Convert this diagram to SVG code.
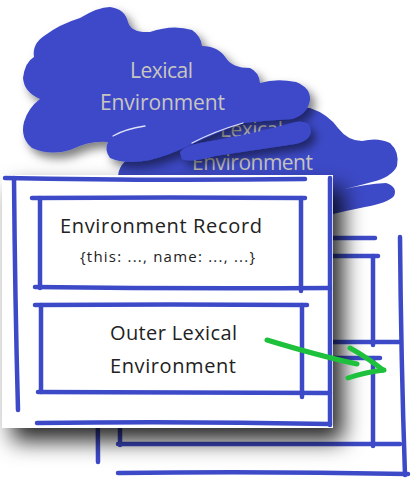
<svg xmlns="http://www.w3.org/2000/svg" width="413" height="487" viewBox="0 0 413 487">
<defs>
<filter id="sh" x="-20%" y="-20%" width="150%" height="150%"><feDropShadow dx="10" dy="13" stdDeviation="11" flood-color="#000" flood-opacity="0.85"/></filter>
<filter id="bsh" x="-20%" y="-30%" width="150%" height="170%"><feDropShadow dx="5" dy="6" stdDeviation="5" flood-color="#000" flood-opacity="0.5"/></filter>
<style>
.ln{fill:none;stroke:#3d4ac8;stroke-width:4.5;stroke-linecap:round;stroke-linejoin:round}
.blob{fill:#3d4ac8}
.bt{font-family:"Open Sans","Liberation Sans",sans-serif;font-size:21px;fill:#c9c6c0}
.t{font-family:"Open Sans","Liberation Sans",sans-serif;font-size:20px;fill:#222}
.ts{font-family:"Open Sans","Liberation Sans",sans-serif;font-size:15px;fill:#222}
.gr{fill:none;stroke:#1ec13c;stroke-width:5;stroke-linecap:round;stroke-linejoin:round}
</style>
</defs>
<rect width="413" height="487" fill="#fff"/>

<g id="back-env">
<path class="ln" d="M85,238 L375,238"/>
<path class="ln" d="M400,237 Q401,360 405,475"/>
<path class="ln" d="M118,473 Q260,471 408,474"/>
<path class="ln" d="M97,238 L98,462"/>
<path class="ln" d="M105,256 L378,256"/>
<path class="ln" d="M373,256 L373,345"/>
<path class="ln" d="M108,342 L400,342"/>
<path class="ln" d="M120,256 L120,342"/>
<path class="ln" d="M108,358 L380,358"/>
<path class="ln" d="M373,358 L373,446"/>
<path class="ln" d="M118,444 L400,444"/>
<path class="ln" d="M120,358 L120,445"/>
<path class="blob" d="M118,178 Q118,162 135,156 Q180,140 230,122 Q280,104 310,108 Q328,114 338,128 Q348,141 362,141 Q378,137 390,143 Q400,152 397,166 Q392,177 372,182 Q350,188 340,190 Q366,184 386,183 Q398,187 394,196 Q388,203 365,207 Q345,211 333,214 L300,222 L118,222 Z"/>
<text class="bt" x="220" y="137" textLength="63">Lexical</text>
<text class="bt" x="192" y="170" textLength="121">Environment</text>
</g>

<g id="front-env">
<g filter="url(#bsh)">
<path class="blob" d="M110,7 Q125,9 128,22 Q131,33 150,32 Q173,24 192,30 Q201,36 202,46 Q218,46 226,58 Q232,68 250,68 Q259,72 260,83 Q276,78 296,82 Q311,88 310,100 Q308,114 292,119 Q260,121 243,123 Q215,133 190,145 Q170,155 150,160 Q125,165 110,158 Q104,150 108,142 Q90,140 70,150 Q50,156 32,148 Q20,138 24,122 Q28,108 40,99 Q24,92 23,78 Q25,62 34,57 Q32,44 44,36 Q60,24 80,18 Q98,7 110,7 Z"/>
<path class="blob" d="M180,152 Q184,146 200,143 Q250,135 296,122 Q310,120 311,131 Q310,141 295,144 Q255,150 215,156 Q190,163 182,159 Z"/>
</g>
<path d="M113,136 Q125,129 145,126" fill="none" stroke="#dfe2f6" stroke-width="1.3" stroke-linecap="round"/>
<path d="M192,143 Q215,131 243,123" fill="none" stroke="#dfe2f6" stroke-width="1.3" stroke-linecap="round"/>
<text class="bt" x="130" y="78" textLength="63">Lexical</text>
<text class="bt" x="100" y="110" textLength="125">Environment</text>

<rect x="2" y="175" width="331" height="253" fill="#fff" filter="url(#sh)"/>
<path class="ln" d="M5,178 Q150,181 305,179"/>
<path class="ln" d="M14,178 Q15,300 18,410"/>
<path class="ln" d="M330,178 L330,425"/>
<path class="ln" d="M37,423 Q180,421 330,424"/>
</g>

<g id="env-record">
<path class="ln" d="M32,198 Q170,197 305,198"/>
<path class="ln" d="M40,198 L40,288"/>
<path class="ln" d="M301,198 L301,291"/>
<path class="ln" d="M35,287 Q180,289 330,288"/>
<text class="t" x="60" y="233" textLength="202">Environment Record</text>
<text class="ts" x="80" y="262" textLength="175">{this: ..., name: ..., ...}</text>
</g>

<g id="outer-lexical-env">
<path class="ln" d="M35,305 Q170,304 307,305"/>
<path class="ln" d="M41,305 L41,392"/>
<path class="ln" d="M302,305 L302,397"/>
<path class="ln" d="M38,392 Q180,393 330,393"/>
<text class="t" x="110" y="340" textLength="127">Outer Lexical</text>
<text class="t" x="110" y="373" textLength="126">Environment</text>
</g>

<g id="connectors">
<path class="gr" d="M267,340 C290,347 320,356 357,364"/>
<path class="gr" d="M350,348 Q368,358 383,370"/>
<path class="gr" d="M348,378 Q366,372 384,370"/>
</g>
</svg>
